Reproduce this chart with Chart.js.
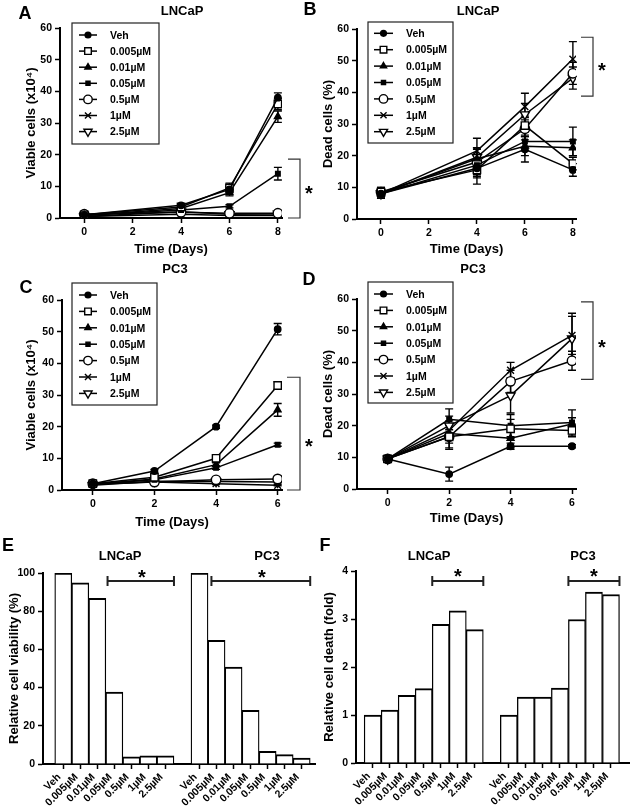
<!DOCTYPE html>
<html><head><meta charset="utf-8">
<script src="https://cdn.jsdelivr.net/npm/chart.js@4"></script>
<style>
html,body{margin:0;padding:0;background:#fff;}
#wrap{position:relative;width:633px;height:812px;overflow:hidden;background:#fff;}
canvas{position:absolute;}
</style></head><body>
<div id="wrap">
<canvas id="cA" width="316" height="259" style="left:0;top:0"></canvas>
<canvas id="cB" width="337" height="259" style="left:296px;top:0"></canvas>
<canvas id="cC" width="316" height="274" style="left:0;top:259px"></canvas>
<canvas id="cD" width="337" height="274" style="left:296px;top:259px"></canvas>
<canvas id="cE" width="316" height="279" style="left:0;top:533px"></canvas>
<canvas id="cF" width="337" height="279" style="left:296px;top:533px"></canvas>
</div>
<script>
// ---------------- DATA ----------------
const doses = ['Veh', '0.005µM', '0.01µM', '0.05µM', '0.5µM', '1µM', '2.5µM'];
const lncapDays = [0, 4, 6, 8];
const pc3Days = [0, 2, 4, 6];
const lncapDayTicks = [0, 2, 4, 6, 8];
const pc3DayTicks = [0, 2, 4, 6];
const lineYTicks = [0, 10, 20, 30, 40, 50, 60];

// A: LNCaP viable cells (x10^4), one row per dose
const lncapViable = [
  [1.0, 4.0, 9.0, 38.0],
  [1.0, 3.5, 9.5, 36.0],
  [0.8, 3.0, 8.0, 32.0],
  [0.8, 2.5, 3.7, 14.0],
  [1.2, 1.8, 1.5, 1.5],
  [0.5, 1.2, 0.8, 0.8],
  [0.5, 2.0, 1.2, 1.3]
];
const lncapViableErr = [
  [0.3, 0.4, 1.0, 1.5],
  [0.3, 0.4, 1.5, 1.8],
  [0.3, 0.4, 1.0, 1.8],
  [0.2, 0.3, 0.5, 2.0],
  [0.3, 0.3, 0.3, 0.4],
  [0.2, 0.3, 0.2, 0.2],
  [0.2, 0.3, 0.3, 0.3]
];
// B: LNCaP dead cells (%)
const lncapDead = [
  [8.0, 16.0, 22.0, 15.5],
  [8.5, 15.5, 29.5, 17.5],
  [8.0, 19.0, 23.0, 22.5],
  [8.0, 17.0, 24.5, 24.5],
  [8.5, 18.0, 28.5, 46.0],
  [8.0, 21.5, 35.5, 50.5],
  [8.0, 19.5, 33.0, 44.5]
];
const lncapDeadErr = [
  [1.5, 3.0, 4.0, 2.0],
  [1.5, 4.5, 3.0, 2.0],
  [1.5, 3.5, 3.0, 2.5],
  [1.5, 3.5, 3.0, 4.5],
  [1.5, 4.0, 3.5, 3.5],
  [1.5, 4.0, 4.2, 5.5],
  [1.5, 3.0, 3.5, 3.5]
];
// C: PC3 viable cells (x10^4)
const pc3Viable = [
  [2.0, 6.0, 20.0, 50.8],
  [2.0, 4.0, 10.0, 33.0],
  [1.8, 3.5, 8.0, 25.3],
  [1.8, 3.2, 7.0, 14.3],
  [2.0, 2.5, 3.2, 3.5],
  [1.8, 2.5, 2.0, 1.5],
  [1.5, 2.8, 2.7, 2.5]
];
const pc3ViableErr = [
  [0.3, 0.5, 0.5, 1.8],
  [0.3, 0.4, 0.8, 1.2],
  [0.3, 0.4, 0.6, 2.0],
  [0.2, 0.3, 0.5, 0.5],
  [0.3, 0.3, 0.4, 0.5],
  [0.2, 0.3, 0.3, 0.2],
  [0.2, 0.3, 0.3, 0.3]
];
// D: PC3 dead cells (%)
const pc3Dead = [
  [9.5, 4.7, 13.5, 13.5],
  [9.5, 16.5, 19.0, 18.5],
  [9.5, 17.5, 16.0, 20.5],
  [9.5, 22.0, 20.0, 21.0],
  [9.5, 16.5, 34.0, 40.5],
  [9.5, 18.5, 37.5, 48.5],
  [9.5, 20.0, 29.5, 47.5]
];
const pc3DeadErr = [
  [1.0, 2.2, 1.0, 0.5],
  [1.0, 3.5, 3.0, 2.0],
  [1.0, 3.0, 3.0, 2.0],
  [1.0, 3.3, 3.5, 4.0],
  [1.0, 4.0, 3.5, 3.0],
  [1.0, 3.0, 2.5, 6.0],
  [1.0, 3.0, 5.5, 8.0]
];
// E: relative cell viability (%)
const viabilityLNCaP = [100, 94.8, 86.7, 37.7, 3.8, 4.3, 4.3];
const viabilityPC3 = [100, 64.7, 50.8, 28.1, 6.6, 4.9, 3.1];
const viabilityTicks = [0, 20, 40, 60, 80, 100];
// F: relative cell death (fold)
const deathLNCaP = [1.0, 1.10, 1.41, 1.55, 2.89, 3.17, 2.78];
const deathPC3 = [1.0, 1.375, 1.375, 1.56, 2.99, 3.56, 3.51];
const deathTicks = [0, 1, 2, 3, 4];

// ---------------- STYLE ----------------
const FF = '"Liberation Sans", Arial, Helvetica, sans-serif';
Chart.defaults.font.family = FF;
Chart.defaults.font.weight = 'bold';
Chart.defaults.font.size = 10.5;
Chart.defaults.color = '#000';

const MARK = [
  {style: 'circle', r: 3.2, bg: '#000', rot: 0},
  {style: 'rect', r: 5.2, bg: '#fff', rot: 0},
  {style: 'triangle', r: 4.0, bg: '#000', rot: 0},
  {style: 'rect', r: 3.2, bg: '#000', rot: 0},
  {style: 'circle', r: 4.7, bg: '#fff', rot: 0},
  {style: 'crossRot', r: 4.8, bg: '#000', rot: 0},
  {style: 'triangle', r: 5.2, bg: '#fff', rot: 180}
];

const deco = {
  id: 'deco',
  beforeDatasetsDraw(chart, args, o) {
    if (!o.errors) return;
    const ctx = chart.ctx, xs = chart.scales.x, ys = chart.scales.y;
    ctx.save();
    ctx.strokeStyle = '#000'; ctx.lineWidth = 1.4;
    chart.data.datasets.forEach(ds => {
      if (!ds.err) return;
      ds.data.forEach((p, i) => {
        const e = ds.err[i]; if (!e) return;
        const x = xs.getPixelForValue(p.x);
        const y1 = ys.getPixelForValue(p.y + e), y2 = ys.getPixelForValue(Math.max(0, p.y - e));
        ctx.beginPath();
        ctx.moveTo(x, y1); ctx.lineTo(x, y2);
        ctx.moveTo(x - 4, y1); ctx.lineTo(x + 4, y1);
        ctx.moveTo(x - 4, y2); ctx.lineTo(x + 4, y2);
        ctx.stroke();
      });
    });
    ctx.restore();
  },
  afterDraw(chart, args, o) {
    const ctx = chart.ctx, xs = chart.scales.x, ys = chart.scales.y;
    ctx.save();
    ctx.fillStyle = '#000';
    ctx.textAlign = 'center'; ctx.textBaseline = 'alphabetic';
    if (o.letter) {
      ctx.font = 'bold 18px ' + FF;
      ctx.fillText(o.letter.t, o.letter.x, o.letter.y + 0.36 * 18);
    }
    (o.titles || []).forEach(t => {
      ctx.font = 'bold 13px ' + FF;
      ctx.fillText(t.t, t.x, t.y + 0.36 * 13);
    });
    if (o.legend) {
      const g = o.legend;
      ctx.fillStyle = '#fff'; ctx.fillRect(g.x, g.y, g.w, g.h);
      ctx.strokeStyle = '#222'; ctx.lineWidth = 1.2; ctx.strokeRect(g.x, g.y, g.w, g.h);
      chart.data.datasets.forEach((ds, k) => {
        const y = g.y0 + k * g.dy;
        ctx.strokeStyle = '#000'; ctx.lineWidth = 1.5;
        ctx.beginPath(); ctx.moveTo(g.lx0, y); ctx.lineTo(g.lx1, y); ctx.stroke();
        ctx.fillStyle = ds.pointBackgroundColor; ctx.lineWidth = 1.4;
        Chart.helpers.drawPoint(ctx, {pointStyle: ds.pointStyle, radius: ds.pointRadius * 0.9,
          rotation: ds.pointRotation, borderWidth: 1.4}, (g.lx0 + g.lx1) / 2, y);
        ctx.fillStyle = '#000'; ctx.font = 'bold 10.5px ' + FF;
        ctx.textAlign = 'left';
        ctx.fillText(ds.label, g.tx, y + 0.36 * 10.5);
      });
    }
    (o.vbrackets || []).forEach(b => {
      const y0 = ys.getPixelForValue(b.v0), y1 = ys.getPixelForValue(b.v1);
      ctx.strokeStyle = '#333'; ctx.lineWidth = 1.2;
      ctx.beginPath();
      ctx.moveTo(b.x - b.t, y0); ctx.lineTo(b.x, y0); ctx.lineTo(b.x, y1); ctx.lineTo(b.x - b.t, y1);
      ctx.stroke();
    });
    (o.hbrackets || []).forEach(b => {
      const x0 = xs.getPixelForValue(b.i0), x1 = xs.getPixelForValue(b.i1), y = ys.getPixelForValue(b.v);
      ctx.strokeStyle = '#222'; ctx.lineWidth = 2;
      ctx.beginPath();
      ctx.moveTo(x0, y); ctx.lineTo(x1, y);
      ctx.moveTo(x0, y - 5); ctx.lineTo(x0, y + 5);
      ctx.moveTo(x1, y - 5); ctx.lineTo(x1, y + 5);
      ctx.stroke();
    });
    ctx.textAlign = 'center';
    (o.stars || []).forEach(s => {
      ctx.fillStyle = '#000';
      ctx.font = 'bold 20px ' + FF;
      ctx.fillText('*', s.x, s.y + 11.5);
    });
    ctx.restore();
  }
};

function axisBase() {
  return {
    border: {display: true, color: '#000', width: 2},
    grid: {display: true, drawOnChartArea: false, drawTicks: true, tickLength: 5, tickWidth: 1.5, tickColor: '#000', offset: false},
  };
}

function lineChart(id, days, xTicks, vals, errs, yTitle, L) {
  const datasets = doses.map((d, k) => ({
    label: d,
    data: days.map((x, i) => ({x: x, y: vals[k][i]})),
    err: errs[k],
    borderColor: '#000', borderWidth: 1.5, tension: 0, fill: false,
    pointStyle: MARK[k].style, pointRadius: MARK[k].r, pointRotation: MARK[k].rot,
    pointBackgroundColor: MARK[k].bg, pointBorderColor: '#000', pointBorderWidth: 1.4,
    pointHoverRadius: MARK[k].r
  }));
  return new Chart(document.getElementById(id), {
    type: 'line',
    data: {datasets},
    options: {
      responsive: false, animation: false, devicePixelRatio: 1,
      layout: {padding: {left: 0, right: L.pr, top: L.pt, bottom: L.pb}},
      plugins: {legend: {display: false}, tooltip: {enabled: false}, deco: L.deco},
      scales: {
        x: Object.assign(axisBase(), {
          type: 'linear', min: -1, max: L.xmax, offset: false,
          afterBuildTicks: s => { s.ticks = xTicks.map(v => ({value: v})); },
          afterFit: s => { s.height = 40; },
          ticks: {color: '#000', font: {size: 10.5, weight: 'bold'}, padding: 3, autoSkip: false, maxRotation: 0},
          title: {display: true, text: 'Time (Days)', color: '#000', font: {size: 13, weight: 'bold'}, padding: {top: 0, bottom: L.xtp}}
        }),
        y: Object.assign(axisBase(), {
          type: 'linear', min: 0, max: 60,
          afterBuildTicks: s => { s.ticks = lineYTicks.map(v => ({value: v})); },
          afterFit: s => { s.width = L.yw; },
          ticks: {color: '#000', font: {size: 10.5, weight: 'bold'}, padding: 3},
          title: {display: true, text: yTitle, color: '#000', font: {size: 13, weight: 'bold'}, padding: {top: L.ytp, bottom: 0}}
        })
      }
    },
    plugins: [deco]
  });
}

function barChart(id, lnc, pc3, yMax, yTicks, yTitle, L) {
  const pos1 = doses.map((d, i) => i);
  const pos2 = doses.map((d, i) => i + 8);
  const pts = lnc.map((v, i) => ({x: pos1[i], y: v})).concat(pc3.map((v, i) => ({x: pos2[i], y: v})));
  const tickPos = pos1.concat(pos2);
  return new Chart(document.getElementById(id), {
    type: 'bar',
    data: {datasets: [{
      data: pts, backgroundColor: '#fff', borderColor: '#000',
      borderWidth: {top: 2, left: 1.3, right: 1.3, bottom: 0}, borderSkipped: false,
      barPercentage: 1, categoryPercentage: 1
    }]},
    options: {
      responsive: false, animation: false, devicePixelRatio: 1,
      layout: {padding: {left: 0, right: L.pr, top: L.pt, bottom: L.pb}},
      plugins: {legend: {display: false}, tooltip: {enabled: false}, deco: L.deco},
      scales: {
        x: Object.assign(axisBase(), {
          type: 'linear', min: L.xmin, max: L.xmax, offset: false, z: 1,
          afterBuildTicks: s => { s.ticks = tickPos.map(v => ({value: v})); },
          afterFit: s => { s.height = 48; },
          ticks: {color: '#000', font: {size: 10.5, weight: 'bold'}, padding: 2, autoSkip: false,
            minRotation: 45, maxRotation: 45, labelOffset: L.lo,
            callback: v => { const r = Math.round(v); return doses[r >= 8 ? r - 8 : r]; }}
        }),
        y: Object.assign(axisBase(), {
          type: 'linear', min: 0, max: yMax,
          afterBuildTicks: s => { s.ticks = yTicks.map(v => ({value: v})); },
          afterFit: s => { s.width = L.yw; },
          ticks: {color: '#000', font: {size: 10.5, weight: 'bold'}, padding: 3},
          title: {display: true, text: yTitle, color: '#000', font: {size: 13, weight: 'bold'}, padding: {top: L.ytp, bottom: 0}}
        })
      }
    },
    plugins: [deco]
  });
}

lineChart('cA', lncapDays, lncapDayTicks, lncapViable, lncapViableErr, 'Viable cells (x10⁴)', {
  pr: 34, pt: 28, pb: 1, yw: 60, ytp: 24, xtp: 1.2, xmax: 8.17,
  deco: {errors: true, letter: {t: 'A', x: 25, y: 13}, titles: [{t: 'LNCaP', x: 182, y: 10}],
    legend: {x: 72, y: 23, w: 87, h: 121, y0: 35, dy: 16.1, lx0: 79, lx1: 97, tx: 110},
    vbrackets: [{x: 300, v0: 0, v1: 18.6, t: 12}], stars: [{x: 309, y: 188}]}
});
lineChart('cB', lncapDays, lncapDayTicks, lncapDead, lncapDeadErr, 'Dead cells (%)', {
  pr: 57, pt: 29, pb: 0, yw: 61, ytp: 25, xtp: 2.2, xmax: 8.13,
  deco: {errors: true, letter: {t: 'B', x: 14, y: 9}, titles: [{t: 'LNCaP', x: 182, y: 10}],
    legend: {x: 72, y: 22, w: 85, h: 121, y0: 33.3, dy: 16.4, lx0: 78, lx1: 97, tx: 110},
    vbrackets: [{x: 297, v0: 57.4, v1: 38.8, t: 12}], stars: [{x: 306, y: 65}]}
});
lineChart('cC', pc3Days, pc3DayTicks, pc3Viable, pc3ViableErr, 'Viable cells (x10⁴)', {
  pr: 34, pt: 41, pb: 3, yw: 62, ytp: 24, xtp: 0.2, xmax: 6.14,
  deco: {errors: true, letter: {t: 'C', x: 26, y: 28}, titles: [{t: 'PC3', x: 175, y: 9}],
    legend: {x: 72, y: 24, w: 85, h: 122, y0: 36, dy: 16.4, lx0: 79, lx1: 97, tx: 110},
    vbrackets: [{x: 300, v0: 35.6, v1: 0, t: 13}], stars: [{x: 309, y: 182}]}
});
lineChart('cD', pc3Days, pc3DayTicks, pc3Dead, pc3DeadErr, 'Dead cells (%)', {
  pr: 57, pt: 40, pb: 4, yw: 61, ytp: 25, xtp: 3.2, xmax: 6.13,
  deco: {errors: true, letter: {t: 'D', x: 13, y: 20}, titles: [{t: 'PC3', x: 177, y: 9}],
    legend: {x: 72, y: 23, w: 85, h: 121, y0: 35, dy: 16.4, lx0: 78, lx1: 97, tx: 110},
    vbrackets: [{x: 297, v0: 59.1, v1: 34.6, t: 12}], stars: [{x: 306, y: 83}]}
});
barChart('cE', viabilityLNCaP, viabilityPC3, 100, viabilityTicks, 'Relative cell viability (%)', {
  pr: 0, pt: 40, pb: 0, yw: 43, ytp: 7, xmin: -1.19, xmax: 14.84, lo: -4,
  deco: {letter: {t: 'E', x: 8, y: 12}, titles: [{t: 'LNCaP', x: 120, y: 22}, {t: 'PC3', x: 267, y: 22}],
    hbrackets: [{i0: 2.6, i1: 6.5, v: 95.8}, {i0: 8.7, i1: 14.5, v: 95.8}],
    stars: [{x: 142, y: 39}, {x: 262, y: 39}]}
});
barChart('cF', deathLNCaP, deathPC3, 4, deathTicks, 'Relative cell death (fold)', {
  pr: 4, pt: 38, pb: 1, yw: 60, ytp: 26, xmin: -0.98, xmax: 15.06, lo: -4,
  deco: {letter: {t: 'F', x: 29, y: 12}, titles: [{t: 'LNCaP', x: 133, y: 22}, {t: 'PC3', x: 287, y: 22}],
    hbrackets: [{i0: 3.5, i1: 6.5, v: 3.79}, {i0: 11.5, i1: 14.5, v: 3.79}],
    stars: [{x: 162, y: 38}, {x: 298, y: 38}]}
});
</script>
</body></html>
